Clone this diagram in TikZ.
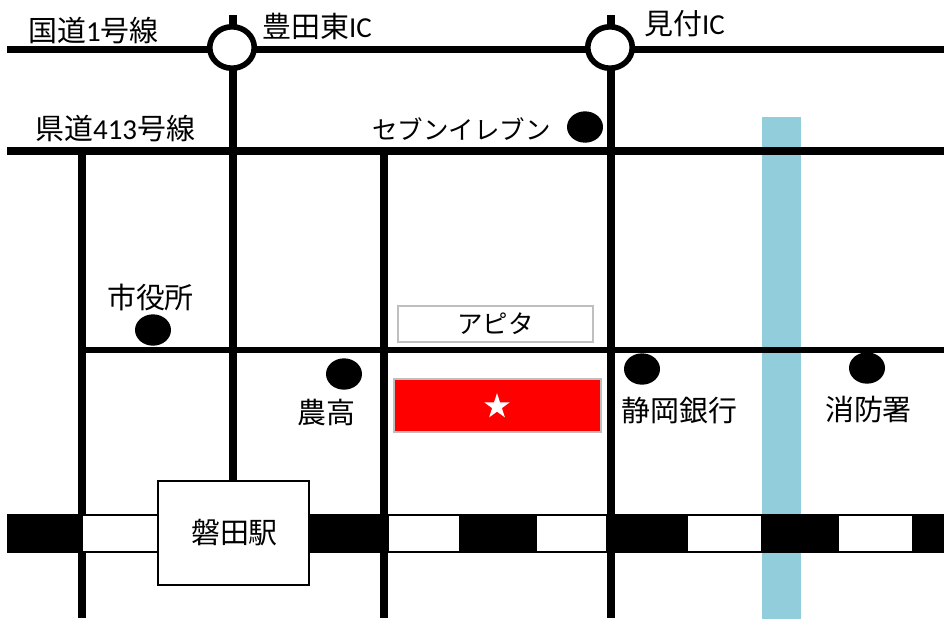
\documentclass[tikz,border=0pt]{standalone}
\usepackage{fontspec}
\setmainfont{Carlito}
\newfontfamily\cjk{Noto Sans CJK JP}
\usetikzlibrary{shapes.geometric}
\definecolor{river}{HTML}{92CDDC}
\definecolor{edgegray}{HTML}{BFBFBF}
\tikzset{
  x=0.75pt,y=-0.75pt,
  road/.style={line width=5.6pt,draw=black},
  thinroad/.style={line width=3.9pt,draw=black},
  ic/.style={ellipse,draw=black,line width=4.2pt,fill=white,minimum width=33.4pt,minimum height=31.1pt,inner sep=0pt},
  spot/.style={ellipse,fill=black,minimum width=27pt,minimum height=23.5pt,inner sep=0pt},
  lbl/.style={font=\fontsize{21.7}{24}\selectfont,inner sep=0pt,text=black},
  kana/.style={lbl,font=\fontsize{19.1}{24}\selectfont},
  railb/.style={fill=black,draw=black,line width=1pt},
  railw/.style={fill=white,draw=black,line width=1pt},
}
\begin{document}
\begin{tikzpicture}
\useasboundingbox (0,0) rectangle (944,619);
\fill[white] (0,0) rectangle (944,619);
% river
\fill[river] (762,117) rectangle (801,619);
% road end points
\coordinate (r1w) at (7,49.6); \coordinate (r1e) at (944,49.6);
\coordinate (r2w) at (7,151); \coordinate (r2e) at (944,151);
\coordinate (r3w) at (85,350); \coordinate (r3e) at (944,350);
\coordinate (v1t) at (82,151); \coordinate (v1b) at (82,618);
\coordinate (v2t) at (233,15); \coordinate (v2b) at (233,482);
\coordinate (v3t) at (384,151); \coordinate (v3b) at (384,618);
\coordinate (v4t) at (611,15); \coordinate (v4b) at (611,618);
\draw[road] (r1w) -- (r1e);
\draw[road] (r2w) -- (r2e);
\draw[thinroad] (r3w) -- (r3e);
\draw[road] (v1t) -- (v1b);
\draw[road] (v2t) -- (v2b);
\draw[road] (v3t) -- (v3b);
\draw[road] (v4t) -- (v4b);
% railway
\filldraw[railb] (7.7,515) rectangle (82,552);
\filldraw[railw] (82,515) rectangle (158,552);
\filldraw[railb] (158,515) rectangle (384,552);
\filldraw[railw] (388,515) rectangle (460,552);
\filldraw[railb] (460,515) rectangle (536,552);
\filldraw[railw] (536,515) rectangle (607,552);
\filldraw[railb] (607,515) rectangle (687,552);
\filldraw[railw] (687,515) rectangle (762,552);
\filldraw[railb] (762,515) rectangle (838,552);
\filldraw[railw] (838,515) rectangle (913,552);
\filldraw[railb] (913,515) rectangle (950,552);
% interchanges
\node[ic] (ic1) at (232,47.5) {};
\node[ic] (ic2) at (610,47.5) {};
% spots
\node[spot] (s1) at (585,127) {};
\node[spot] (s2) at (153,330) {};
\node[spot] (s3) at (344,374) {};
\node[spot] (s4) at (642,369) {};
\node[spot] (s5) at (867,368) {};
% boxes
\node[draw=edgegray,line width=1.5pt,fill=white,minimum width=146pt,minimum height=27pt,inner sep=0pt,kana] (apita) at (495.5,323.5) {\cjk アピタ};
\node[draw=edgegray,line width=1.5pt,fill=red,minimum width=155pt,minimum height=40pt,inner sep=0pt] (site) at (497.3,405.5) {};
\node[star,star points=5,star point ratio=2.6,fill=white,minimum size=20pt,inner sep=0pt] (star) at (497,406.5) {};
\node[draw=black,line width=1.5pt,fill=white,minimum width=113.5pt,minimum height=78pt,inner sep=0pt] (station) at (233.5,532.5) {};
\node[lbl] (stlabel) at (234.5,532.5) {\cjk 磐田駅};
% labels
\node[lbl,anchor=west] (t1) at (28,31) {{\cjk 国道}1{\cjk 号線}};
\node[lbl,anchor=west] (t2) at (262,26) {{\cjk 豊田東}IC};
\node[lbl,anchor=west] (t3) at (644,24) {{\cjk 見付}IC};
\node[lbl,anchor=west] (t4) at (35,129) {{\cjk 県道}413{\cjk 号線}};
\node[kana,anchor=west] (t5) at (372,129) {\cjk セブンイレブン};
\node[lbl] (t6) at (150.5,297) {\cjk 市役所};
\node[lbl] (t7) at (326.5,413) {\cjk 農高};
\node[lbl] (t8) at (679.5,411) {\cjk 静岡銀行};
\node[lbl] (t9) at (868.5,409) {\cjk 消防署};
\end{tikzpicture}
\end{document}
